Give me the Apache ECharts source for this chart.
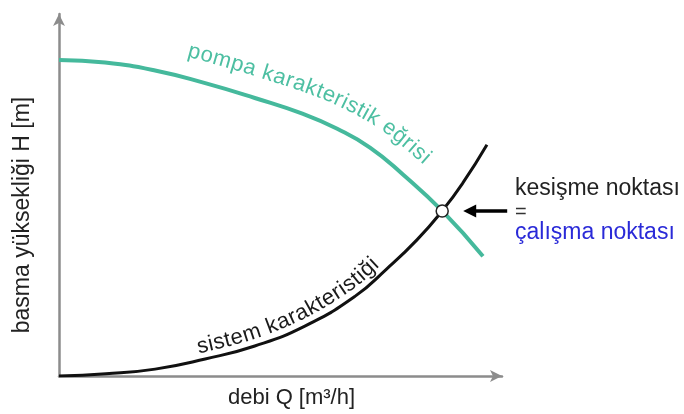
<!DOCTYPE html>
<html><head><meta charset="utf-8">
<script src="https://cdn.jsdelivr.net/npm/echarts@6/dist/echarts.min.js"></script>
<style>html,body{margin:0;padding:0;background:#fff}#c{width:684px;height:414px}</style>
</head><body><div id="c"></div>
<script>
// Pump characteristic curve (Q, H)
const pumpQ = [0, 10.4, 21.7, 33.0, 44.2, 55.1, 62.8, 70.2, 77.7, 86.5, 95.7];
const pumpH = [87.3, 86.6, 84.4, 80.9, 76.8, 72.4, 68.3, 63.1, 55.6, 45.6, 33.1];
// System characteristic curve (Q, H)
const systemQ = [0, 10.6, 21.7, 33.0, 44.2, 55.5, 66.8, 74.0, 80.8, 86.5, 91.2, 96.6];
const systemH = [0, 0.6, 1.9, 4.7, 8.3, 13.8, 22.0, 29.6, 37.6, 45.6, 53.4, 63.9];
// Operating point (intersection)
const opQ = [86.5];
const opH = [45.6];
// Texts
const xName = 'debi Q [m³/h]';
const yName = 'basma yüksekliği H [m]';
const pumpLabel = 'pompa karakteristik eğrisi';
const systemLabel = 'sistem karakteristiği';
const opLabel1 = 'kesişme noktası';
const opLabel2 = '=';
const opLabel3 = 'çalışma noktası';

const TEAL = '#45b99c';
const FONT = '"Liberation Sans", Arial, sans-serif';

const chart = echarts.init(document.getElementById('c'), null, {renderer: 'canvas'});
const axisCommon = {
  type: 'value', min: 0, max: 100,
  axisLine: {show: true, symbol: ['none', 'arrow'], symbolSize: [9, 12], lineStyle: {color: '#8c8c8c', width: 2.5}},
  axisTick: {show: false}, axisLabel: {show: false}, splitLine: {show: false}
};
chart.setOption({
  animation: false,
  backgroundColor: '#fff',
  grid: {left: 59, right: 182, top: 14, bottom: 37},
  xAxis: Object.assign({}, axisCommon, {
    name: xName, nameLocation: 'middle', nameGap: 11,
    nameTextStyle: {fontSize: 22, color: '#222', fontFamily: FONT, padding: [0, 0, 0, 22]}
  }),
  yAxis: Object.assign({}, axisCommon, {
    name: yName, nameLocation: 'middle', nameGap: 25,
    nameTextStyle: {fontSize: 23, color: '#222', fontFamily: FONT, padding: [0, 40, 0, 0]}
  }),
  series: [
    {type: 'line', data: pumpQ.map((q, i) => [q, pumpH[i]]), smooth: 0.5, showSymbol: false,
     lineStyle: {color: TEAL, width: 4}, z: 2},
    {type: 'line', data: systemQ.map((q, i) => [q, systemH[i]]), smooth: 0.5, showSymbol: false,
     lineStyle: {color: '#111', width: 3}, z: 3},
    {type: 'scatter', data: opQ.map((q, i) => [q, opH[i]]), symbol: 'circle', symbolSize: 12,
     itemStyle: {color: '#fff', borderColor: '#222', borderWidth: 1.5, opacity: 1}, z: 5}
  ]
});

// ---- curved text along curves ----
const measureCtx = document.createElement('canvas').getContext('2d');
function px(q, h) { return chart.convertToPixel({gridIndex: 0}, [q, h]); }
function densify(qs, hs) {
  const P = qs.map((q, i) => px(q, hs[i]));
  const out = [];
  for (let i = 0; i < P.length - 1; i++) {
    const p0 = P[Math.max(0, i - 1)], p1 = P[i], p2 = P[i + 1], p3 = P[Math.min(P.length - 1, i + 2)];
    for (let k = 0; k < 40; k++) {
      const t = k / 40, t2 = t * t, t3 = t2 * t;
      const f = (a, b, c, d) => 0.5 * ((2 * b) + (-a + c) * t + (2 * a - 5 * b + 4 * c - d) * t2 + (-a + 3 * b - 3 * c + d) * t3);
      out.push([f(p0[0], p1[0], p2[0], p3[0]), f(p0[1], p1[1], p2[1], p3[1])]);
    }
  }
  out.push(P[P.length - 1]);
  return out;
}
function curvedText(qs, hs, text, fromQ, toQ, offset, fontSize, color) {
  const pts = densify(qs, hs);
  const x0 = px(fromQ, 0)[0], x1 = px(toQ, 0)[0];
  const off = pts.map((p, i) => {
    const a = pts[Math.max(0, i - 3)], b = pts[Math.min(pts.length - 1, i + 3)];
    let tx = b[0] - a[0], ty = b[1] - a[1];
    const l = Math.hypot(tx, ty) || 1; tx /= l; ty /= l;
    return {x: p[0] + ty * offset, y: p[1] - tx * offset};
  });
  let i0 = 0, i1 = pts.length - 1;
  pts.forEach((p, i) => { if (Math.abs(p[0] - x0) < Math.abs(pts[i0][0] - x0)) i0 = i; if (Math.abs(p[0] - x1) < Math.abs(pts[i1][0] - x1)) i1 = i; });
  const seg = off.slice(i0, i1 + 1);
  const cum = [0];
  for (let i = 1; i < seg.length; i++) cum.push(cum[i - 1] + Math.hypot(seg[i].x - seg[i - 1].x, seg[i].y - seg[i - 1].y));
  const L = cum[cum.length - 1];
  const font = fontSize + 'px ' + FONT;
  measureCtx.font = font;
  const chars = Array.from(text);
  const ws = chars.map(c => measureCtx.measureText(c).width);
  const W = ws.reduce((a, b) => a + b, 0);
  const gap = (L - W) / (chars.length - 1);
  const els = [];
  let s = 0;
  chars.forEach((c, k) => {
    const sc = s + ws[k] / 2;
    let j = 1; while (j < cum.length - 1 && cum[j] < sc) j++;
    const ja = Math.max(0, j - 4), jb = Math.min(seg.length - 1, j + 3);
    const a = seg[j - 1], b = seg[j];
    const t = (sc - cum[j - 1]) / ((cum[j] - cum[j - 1]) || 1);
    const x = a.x + (b.x - a.x) * t, y = a.y + (b.y - a.y) * t;
    const ang = Math.atan2(seg[jb].y - seg[ja].y, seg[jb].x - seg[ja].x);
    s += ws[k] + gap;
    if (c === ' ') return;
    els.push({type: 'text', x: x, y: y, rotation: -ang, z: 10,
      style: {text: c, font: font, fill: color, align: 'center', verticalAlign: 'middle'}});
  });
  return els;
}

const op = px(opQ[0], opH[0]);
const graphics = []
  .concat(curvedText(pumpQ, pumpH, pumpLabel, 27.5, 79.2, 27, 22, '#4dbfa2'))
  .concat(curvedText(systemQ, systemH, systemLabel, 31.8, 73.4, 13, 22, '#1a1a1a'));
// arrow pointing to operating point
graphics.push({type: 'line', z: 10, shape: {x1: op[0] + 65, y1: op[1], x2: op[0] + 31, y2: op[1]},
  style: {stroke: '#000', lineWidth: 3.5}});
graphics.push({type: 'polygon', z: 10, shape: {points: [[op[0] + 21, op[1]], [op[0] + 34, op[1] - 6.5], [op[0] + 34, op[1] + 6.5]]},
  style: {fill: '#000'}});
graphics.push({type: 'text', x: 515, y: 189, z: 10, style: {text: opLabel1, font: '23px ' + FONT, fill: '#222', align: 'left', verticalAlign: 'middle'}});
graphics.push({type: 'text', x: 515, y: 212, z: 10, style: {text: opLabel2, font: '20px ' + FONT, fill: '#333', align: 'left', verticalAlign: 'middle'}});
graphics.push({type: 'text', x: 515, y: 233, z: 10, style: {text: opLabel3, font: '23px ' + FONT, fill: '#2a2ad8', align: 'left', verticalAlign: 'middle'}});
chart.setOption({graphic: {elements: graphics}});
</script>
</body></html>
